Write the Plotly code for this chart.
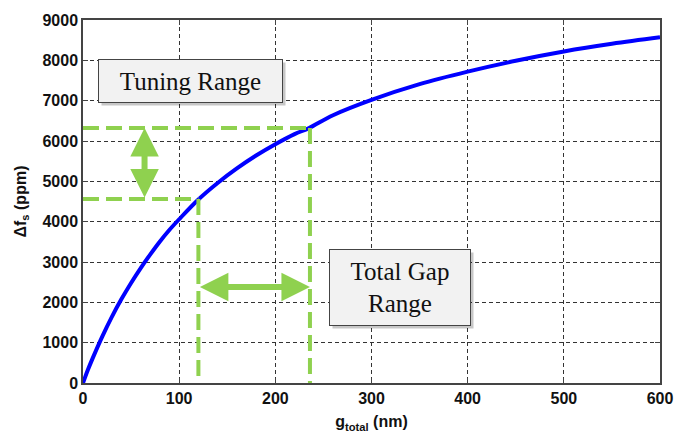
import plotly.graph_objects as go

# Curve
g_total = [0, 5, 10, 20, 30, 40, 50, 60, 70, 80, 90, 100, 120, 140, 160, 180, 200,
           220, 235, 260, 300, 350, 400, 450, 500, 550, 600]
delta_fs = [0, 320, 610, 1150, 1640, 2080, 2480, 2850, 3190, 3510, 3800, 4060, 4550,
            4960, 5320, 5640, 5920, 6170, 6320, 6640, 7020, 7410, 7720, 7990, 8220, 8410, 8570]

# Range markers
gap_low, gap_high = 120, 236
tune_low, tune_high = 4560, 6320
tune_arrow_x = 64
gap_arrow_y = 2380

x_ticks = [0, 100, 200, 300, 400, 500, 600]
y_ticks = [0, 1000, 2000, 3000, 4000, 5000, 6000, 7000, 8000, 9000]

green = "#8fd14f"
fig = go.Figure()

fig.add_trace(go.Scatter(x=g_total, y=delta_fs, mode="lines", line=dict(color="#0000ff", width=4, shape="spline"),
                         showlegend=False, hoverinfo="skip"))

# Green dashed guide lines
for xs, ys in [([0, gap_high], [tune_high, tune_high]), ([gap_high, gap_high], [tune_high, 0]),
               ([0, gap_low], [tune_low, tune_low]), ([gap_low, gap_low], [tune_low, 0])]:
    fig.add_trace(go.Scatter(x=xs, y=ys, mode="lines", line=dict(color=green, width=4, dash="16px,7px"),
                             showlegend=False, hoverinfo="skip", cliponaxis=False))

box_font = dict(family="Liberation Serif", size=25, color="#111")
boxes = [(112, 7490, "Tuning Range", 181, 40), (329.5, 2360, "Total Gap<br>Range", 138, 73)]

annotations = [
    dict(x=tune_arrow_x, y=tune_high, ax=tune_arrow_x, ay=tune_low, xref="x", yref="y", axref="x", ayref="y",
         showarrow=True, arrowhead=2, startarrowhead=2, arrowside="end+start", arrowwidth=6, arrowsize=0.95,
         startarrowsize=0.95, arrowcolor=green, text=""),
    dict(x=gap_high, y=gap_arrow_y, ax=gap_low, ay=gap_arrow_y, xref="x", yref="y", axref="x", ayref="y",
         showarrow=True, arrowhead=2, startarrowhead=2, arrowside="end+start", arrowwidth=6, arrowsize=0.95,
         startarrowsize=0.95, arrowcolor=green, text=""),
]
for bx, by, txt, w, h in boxes:
    annotations.append(dict(x=bx, y=by, xref="x", yref="y", text=" ",
                            showarrow=False, font=box_font, bgcolor="rgba(0,0,0,0.22)", borderwidth=1,
                            bordercolor="rgba(0,0,0,0)", width=w, height=h, xshift=3, yshift=-3))
    annotations.append(dict(x=bx, y=by, xref="x", yref="y", text=txt, showarrow=False, font=box_font,
                            bgcolor="#f2f2f2", bordercolor="#444", borderwidth=1, width=w, height=h))

axis_common = dict(showgrid=True, gridcolor="#333", griddash="4px,3px", gridwidth=1,
                   showline=True, linecolor="#444", linewidth=1.5, mirror="ticks", ticks="inside", ticklen=5,
                   tickcolor="#444", zeroline=False, automargin=False,
                   tickfont=dict(family="Liberation Sans", size=16, color="#111", weight="bold"))

fig.update_layout(
    width=689, height=434,
    margin=dict(l=83, r=29, t=20, b=51),
    paper_bgcolor="white", plot_bgcolor="white",
    font=dict(family="Liberation Sans", size=14, color="#111"),
    annotations=annotations,
    xaxis=dict(range=[0, 600], tickvals=x_ticks, **axis_common,
               title=dict(text="<b>g<sub>total</sub> (nm)</b>", font=dict(size=16), standoff=10)),
    yaxis=dict(range=[0, 9000], tickvals=y_ticks, **axis_common,
               title=dict(text="<b>Δf<sub>s</sub> (ppm)</b>", font=dict(size=16), standoff=12)),
)

fig.write_html("out.html")
